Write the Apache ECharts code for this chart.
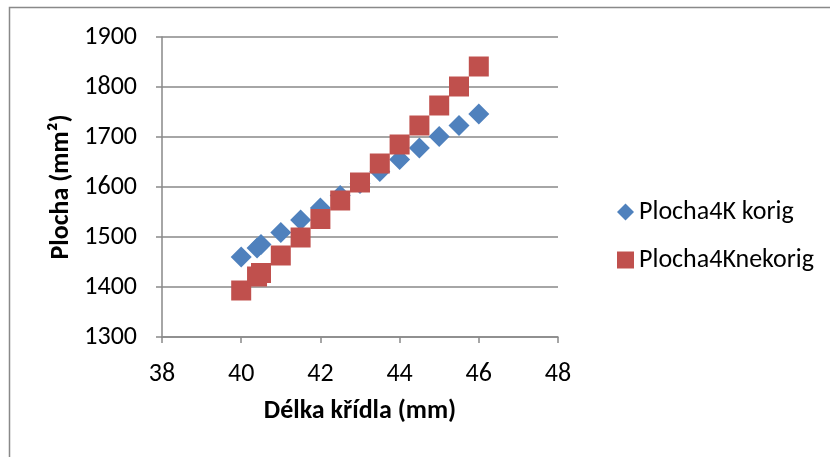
<!DOCTYPE html>
<html>
<head>
<meta charset="utf-8">
<script src="https://cdn.jsdelivr.net/npm/echarts@6/dist/echarts.min.js"></script>
<style>
  html, body { margin: 0; padding: 0; background: #fff; }
  #chart { width: 830px; height: 457px; }
</style>
</head>
<body>
<div id="chart"></div>
<script>
// Wing length (mm) for each measurement
const wingLength = [40, 40.4, 40.5, 41, 41.5, 42, 42.5, 43, 43.5, 44, 44.5, 45, 45.5, 46];
// Area, corrected
const areaCorrected = [1460, 1478, 1485, 1509, 1534, 1558, 1583, 1607, 1631, 1655, 1678, 1701, 1723, 1746];
// Area, uncorrected
const areaUncorrected = [1393, 1421, 1428, 1463, 1499, 1536, 1573, 1609, 1647, 1685, 1723, 1763, 1801, 1841];

const seriesNames = ['Plocha4K korig', 'Plocha4Knekorig'];
const xTicks = { min: 38, max: 48, interval: 2 };
const yTicks = { min: 1300, max: 1900, interval: 100 };

const FONT = 'Carlito, Lato, "Open Sans", sans-serif';
const GRID_COLOR = '#898989';
const FS = 26;

const chart = echarts.init(document.getElementById('chart'), null, { renderer: 'canvas' });

const pairs = (xs, ys) => xs.map((x, i) => [x, ys[i]]);

chart.setOption({
  backgroundColor: '#fff',
  animation: false,
  textStyle: { fontFamily: FONT },
  graphic: [{
    type: 'rect',
    shape: { x: 9.5, y: 7.5, width: 900, height: 500 },
    style: { fill: 'none', stroke: GRID_COLOR, lineWidth: 1.5 },
    silent: true
  }],
  grid: { left: 162, right: 272, top: 37, bottom: 120 },
  legend: {
    orient: 'vertical',
    left: 612,
    top: 194,
    itemGap: 22,
    itemWidth: 17,
    itemHeight: 17,
    textStyle: { fontFamily: FONT, fontSize: FS, color: '#000' },
    data: [
      { name: seriesNames[0], icon: 'diamond' },
      { name: seriesNames[1], icon: 'rect' }
    ]
  },
  xAxis: {
    type: 'value',
    min: xTicks.min, max: xTicks.max, interval: xTicks.interval,
    name: 'Délka křídla (mm)',
    nameLocation: 'middle',
    nameGap: 74,
    nameTextStyle: { fontFamily: FONT, fontSize: FS, fontWeight: 'bold', color: '#000', verticalAlign: 'middle' },
    axisLine: { show: true, lineStyle: { color: GRID_COLOR, width: 1.5 } },
    axisTick: { show: true, length: 6, inside: false, lineStyle: { color: GRID_COLOR, width: 1.5 } },
    axisLabel: { fontFamily: FONT, fontSize: FS, color: '#000', margin: 37, verticalAlign: 'middle' },
    splitLine: { show: false }
  },
  yAxis: {
    type: 'value',
    min: yTicks.min, max: yTicks.max, interval: yTicks.interval,
    name: 'Plocha (mm²)',
    nameLocation: 'middle',
    nameGap: 88,
    nameRotate: 90,
    nameTextStyle: { fontFamily: FONT, fontSize: FS, fontWeight: 'bold', color: '#000' },
    axisLine: { show: true, lineStyle: { color: GRID_COLOR, width: 1.5 } },
    axisTick: { show: true, length: 6, lineStyle: { color: GRID_COLOR, width: 1.5 } },
    axisLabel: { fontFamily: FONT, fontSize: FS, color: '#000', margin: 25, formatter: v => String(v) },
    splitLine: { show: true, lineStyle: { color: GRID_COLOR, width: 1.5 } }
  },
  series: [
    {
      name: seriesNames[0],
      type: 'scatter',
      symbol: 'diamond',
      symbolSize: [21, 21],
      itemStyle: { color: '#4F81BD', opacity: 1 },
      data: pairs(wingLength, areaCorrected)
    },
    {
      name: seriesNames[1],
      type: 'scatter',
      symbol: 'rect',
      symbolSize: [20, 20],
      itemStyle: { color: '#C0504D', opacity: 1 },
      data: pairs(wingLength, areaUncorrected)
    }
  ]
});
</script>
</body>
</html>
